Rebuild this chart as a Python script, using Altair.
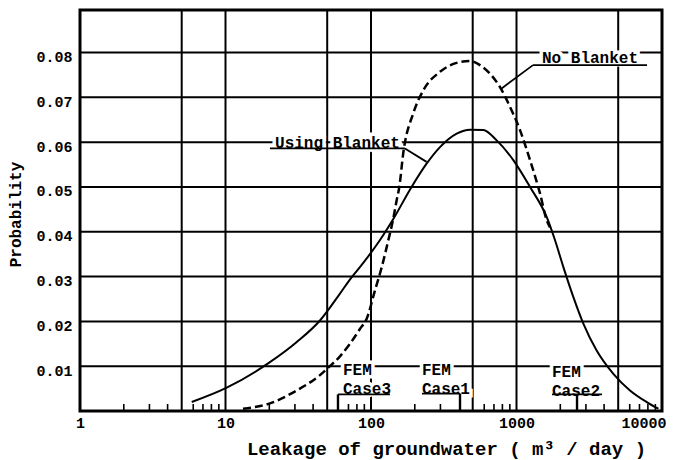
import altair as alt
import pandas as pd

# ---- data ----
x_solid = [5.86, 10.2, 20.2, 30.9, 44.6, 61.2, 71.8, 83.9, 115, 142, 190, 241, 298, 388, 479,
           591, 731, 951, 1239, 1612, 1840, 2100, 2460, 2880, 3555, 4630, 6025, 7850, 9440]
p_solid = [0.0020, 0.0052, 0.0109, 0.0154, 0.0202, 0.0262, 0.0294, 0.0321, 0.0381, 0.0428,
           0.0500, 0.0552, 0.0589, 0.0619, 0.0628, 0.0627, 0.0604, 0.0560, 0.0500, 0.0433,
           0.0381, 0.0321, 0.0254, 0.0195, 0.0135, 0.0083, 0.0046, 0.0020, 0.0005]

x_dash = [13.2, 20.2, 30.9, 44.6, 52.2, 61.2, 71.7, 83.9, 93.4, 106.5, 118.5, 131.5, 142, 150,
          156.5, 167, 195, 229, 298, 388, 479, 561, 657, 770, 902, 1057, 1239, 1452, 1612, 1700]
p_dash = [0.0005, 0.0017, 0.0046, 0.0080, 0.0100, 0.0122, 0.0150, 0.0183, 0.0206, 0.0269,
          0.0321, 0.0381, 0.0428, 0.0470, 0.0500, 0.0578, 0.0664, 0.0716, 0.0757, 0.0777,
          0.0781, 0.0772, 0.0753, 0.0723, 0.0679, 0.0627, 0.0560, 0.0485, 0.0426, 0.0410]

x_labels = [1, 10, 100, 1000, 10000]
y_labels = [0.01, 0.02, 0.03, 0.04, 0.05, 0.06, 0.07, 0.08]
x_grid = [5, 10, 50, 100, 500, 1000, 5000]
x_minor = [2, 3, 4, 6, 7, 8, 9, 20, 30, 40, 70, 80, 90, 200, 300, 600, 700, 800, 900,
           2000, 3000, 4000, 6000, 7000, 8000, 9000]

ann_text = ["No Blanket", "Using Blanket", "FEM", "Case3", "FEM", "Case1", "FEM", "Case2"]
ann_x = [1497, 21.9, 64.2, 64.2, 224, 224, 1754, 1754]
ann_p = [0.0787, 0.0598, 0.0091, 0.0048, 0.0091, 0.0048, 0.0087, 0.0044]

# underlines / leader lines (x, x2, p, p2)
seg_x = [1298, 1298, 20.2, 171, 59.3, 224, 1754]
seg_x2 = [7890, 790, 171, 241, 135, 409, 3870]
seg_p = [0.0772, 0.0772, 0.0586, 0.0586, 0.0037, 0.0039, 0.0037]
seg_p2 = [0.0772, 0.0720, 0.0586, 0.0556, 0.0037, 0.0039, 0.0037]

fem_x = [59.3, 409, 2606]
fem_top = [0.0037, 0.0039, 0.0037]

FONT = "Liberation Mono"
W, H = 582, 401

xs = alt.Scale(type="log", domain=[1, 10000])
ys = alt.Scale(domain=[0, 0.0895])

x_axis = alt.Axis(values=x_labels, format="d", grid=False, ticks=False, domain=False,
                  labelFont=FONT, labelFontSize=15, labelFontWeight="bold", labelColor="black",
                  labelPadding=4, labelFlush=False,
                  labelAlign={"condition": {"test": "datum.value == 10000", "value": "right"},
                              "value": "center"},
                  labelOffset={"condition": {"test": "datum.value == 10000", "value": 4},
                               "value": 0},
                  title="Leakage of groundwater  ( m³ / day )",
                  titleFont=FONT, titleFontSize=19, titleFontWeight="bold", titleColor="black",
                  titleX=366, titleY=37, titleAlign="center", titleBaseline="middle")
y_axis = alt.Axis(values=y_labels, format=".2f", grid=False, ticks=False, domain=False,
                  labelFont=FONT, labelFontSize=15, labelFontWeight="bold", labelColor="black",
                  labelPadding=8, labelOffset=4,
                  title="Probability", titleFont=FONT, titleFontSize=16, titleFontWeight="bold",
                  titleColor="black", titleX=-65, titleY=204, titleAngle=270,
                  titleAlign="center", titleBaseline="middle")


def X(f="x"):
    return alt.X(f + ":Q", scale=xs, axis=x_axis)


def Y(f="p"):
    return alt.Y(f + ":Q", scale=ys, axis=y_axis)


hgrid = alt.Chart(pd.DataFrame({"p": y_labels})).mark_rule(color="black", strokeWidth=2).encode(
    y=Y())
vgrid = alt.Chart(pd.DataFrame({"x": x_grid})).mark_rule(color="black", strokeWidth=2).encode(
    x=X())
minor = alt.Chart(pd.DataFrame({"x": x_minor})).mark_rule(color="black", strokeWidth=1.6).encode(
    x=X(), y=alt.value(H), y2=alt.value(H - 7))

ann = pd.DataFrame({"t": ann_text, "x": ann_x, "p": ann_p})
halo = alt.Chart(ann).mark_text(font=FONT, fontSize=16, fontWeight="bold", align="left",
                                baseline="middle", color="white", stroke="white",
                                strokeWidth=7).encode(x=X(), y=Y(), text="t:N")
labels = alt.Chart(ann).mark_text(font=FONT, fontSize=16, fontWeight="bold", align="left",
                                  baseline="middle", color="black").encode(
    x=X(), y=Y(), text="t:N")

solid = alt.Chart(pd.DataFrame({"x": x_solid, "p": p_solid})).mark_line(
    color="black", strokeWidth=2, interpolate="monotone").encode(x=X(), y=Y())
dashed = alt.Chart(pd.DataFrame({"x": x_dash, "p": p_dash})).mark_line(
    color="black", strokeWidth=2.5, strokeDash=[8, 4], interpolate="monotone").encode(x=X(), y=Y())

segs = alt.Chart(pd.DataFrame({"x": seg_x, "x2": seg_x2, "p": seg_p, "p2": seg_p2})).mark_rule(
    color="black", strokeWidth=1.8).encode(x=X(), x2="x2:Q", y=Y(), y2="p2:Q")

fem = alt.Chart(pd.DataFrame({"x": fem_x, "p": fem_top, "p0": [0, 0, 0]})).mark_rule(
    color="black", strokeWidth=2.4).encode(x=X(), y=Y(), y2="p0:Q")

chart = alt.layer(hgrid, vgrid, minor, halo, solid, dashed, segs, fem, labels).properties(
    width=W, height=H, autosize="none",
    padding={"left": 72, "top": 2, "right": 4, "bottom": 52},
    background="white",
).configure_view(stroke="black", strokeWidth=3)

chart.save("out.html", embed_options={"renderer": "svg", "actions": False})
